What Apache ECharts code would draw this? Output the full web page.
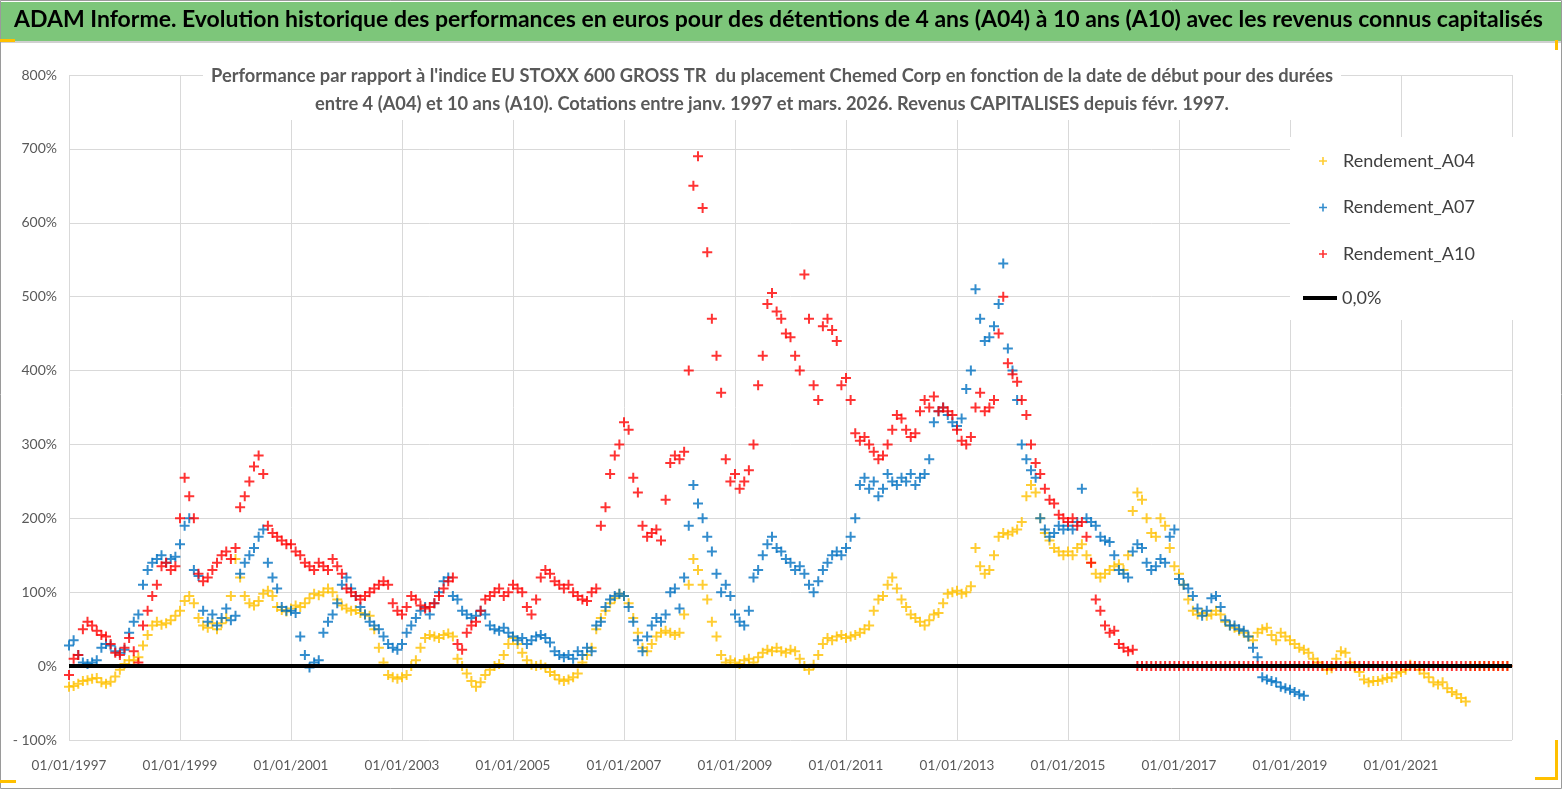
<!DOCTYPE html>
<html>
<head>
<meta charset="utf-8">
<title>ADAM Informe - Chemed Corp</title>
<script src="https://cdn.jsdelivr.net/npm/echarts@6/dist/echarts.min.js"></script>
<style>
  html, body { margin: 0; padding: 0; background: #fff; }
  #chart { width: 1567px; height: 790px; }
</style>
</head>
<body>
<div id="chart"></div>
<script>
// premier point : janvier 1997, un point par mois
var START = 1997;

// Rendement_A04 (en %), mensuel
var A04 = [
  -28, -27, -24, -20, -19, -17, -16, -22, -24, -21, -14, -5,     // 1997
  3, 8, 8, 12, 28, 42, 55, 60, 56, 58, 62, 68,                   // 1998
  75, 88, 95, 85, 65, 55, 52, 58, 50, 58, 65, 95,                // 1999
  145, 120, 95, 85, 82, 88, 98, 102, 95, 80, 76, 74,             // 2000
  78, 82, 80, 85, 92, 98, 96, 100, 105, 100, 90, 82,             // 2001
  78, 75, 76, 72, 70, 68, 50, 25, 5, -12, -15, -17,              // 2002
  -15, -12, 0, 8, 25, 38, 42, 40, 38, 42, 44, 40,                // 2003
  10, 0, -10, -20, -28, -22, -12, -5, 0, 3, 15, 30,              // 2004
  38, 30, 18, 8, 2, 0, 2, -2, -8, -12, -18, -20,                 // 2005
  -18, -15, -10, 5, 15, 25, 50, 65, 75, 85, 92, 98,              // 2006
  95, 85, 65, 45, 25, 20, 30, 40, 45, 48, 45, 42,                // 2007
  45, 70, 110, 145, 130, 110, 90, 60, 40, 15, 5, 8,              // 2008
  5, 3, 8, 10, 5, 12, 18, 22, 20, 25, 20, 18,                    // 2009
  22, 20, 10, 0, -5, 2, 15, 30, 38, 35, 40, 42,                  // 2010
  38, 40, 42, 45, 50, 55, 75, 90, 95, 110, 120, 105,             // 2011
  90, 80, 70, 65, 60, 55, 62, 70, 72, 85, 98, 100,               // 2012
  102, 98, 100, 108, 160, 135, 125, 130, 150, 175, 180, 178,     // 2013
  182, 185, 195, 230, 245, 235, 200, 180, 170, 160, 155, 150,    // 2014
  155, 150, 160, 165, 150, 140, 125, 120, 125, 130, 135, 138,    // 2015
  130, 150, 210, 235, 225, 200, 180, 175, 200, 190, 160, 135,    // 2016
  125, 110, 90, 75, 70, 72, 68, 70, 75, 70, 60, 55,              // 2017
  52, 48, 45, 40, 35, 45, 50, 52, 42, 35, 45, 40,                // 2018
  35, 30, 25, 22, 18, 10, 5, 0, -5, -3, 10, 20,                  // 2019
  18, 5, -2, -8, -18, -22, -20, -20, -18, -16, -15, -10,         // 2020
  -8, -5, 2, 0, -5, -10, -15, -22, -25, -22, -30, -35,           // 2021
  -38, -43, -48, 0, 0, 0, 0, 0, 0, 0, 0, 0                       // 2022
];

// Rendement_A07 (en %), mensuel
var A07 = [
  28, 35, 15, 5, 3, 5, 8, 25, 30, 28, 20, 18,                    // 1997
  22, 45, 60, 70, 110, 130, 140, 145, 150, 140, 145, 148,        // 1998
  165, 190, 200, 130, 122, 75, 60, 70, 55, 65, 78, 62,           // 1999
  68, 125, 140, 150, 160, 175, 185, 140, 120, 105, 80, 75,       // 2000
  75, 72, 40, 15, -2, 5, 8, 45, 60, 70, 85, 110,                 // 2001
  120, 105, 95, 80, 70, 60, 55, 50, 40, 30, 25, 22,              // 2002
  30, 45, 55, 65, 75, 80, 70, 85, 100, 115, 120, 95,             // 2003
  90, 75, 70, 65, 68, 75, 70, 55, 50, 48, 52, 45,                // 2004
  40, 35, 38, 30, 35, 40, 42, 38, 32, 20, 15, 12,                // 2005
  15, 10, 20, 15, 25, 20, 55, 60, 80, 90, 95, 98,                // 2006
  95, 80, 60, 35, 20, 40, 55, 65, 60, 70, 100, 105,              // 2007
  78, 120, 190, 245, 220, 200, 175, 155, 125, 100, 110, 95,      // 2008
  70, 60, 55, 75, 120, 130, 150, 165, 175, 160, 155, 145,        // 2009
  140, 130, 135, 125, 110, 100, 115, 130, 140, 150, 155, 150,    // 2010
  160, 175, 200, 245, 255, 240, 250, 230, 240, 260, 250, 245,    // 2011
  255, 250, 260, 245, 255, 260, 280, 330, 345, 350, 340, 330,    // 2012
  325, 335, 375, 400, 510, 470, 440, 445, 460, 490, 545, 430,    // 2013
  400, 360, 300, 280, 265, 255, 200, 185, 175, 180, 190, 185,    // 2014
  190, 185, 195, 240, 200, 195, 190, 175, 170, 168, 150, 130,    // 2015
  125, 120, 155, 165, 160, 140, 130, 135, 145, 140, 175, 185,    // 2016
  118, 110, 105, 95, 78, 68, 75, 92, 95, 80, 62, 55,             // 2017
  55, 50, 48, 40, 25, 12, -15, -18, -20, -22, -28, -30,          // 2018
  -32, -35, -38, -40                                             // 2019
];

// Rendement_A10 (en %), mensuel
var A10 = [
  -12, 10, 15, 50, 60, 55, 48, 42, 40, 30, 18, 15,               // 1997
  25, 38, 20, 5, 55, 75, 95, 110, 135, 140, 130, 135,            // 1998
  200, 255, 230, 200, 125, 115, 120, 130, 140, 150, 155, 145,    // 1999
  160, 215, 230, 250, 270, 285, 260, 190, 180, 175, 170, 165,    // 2000
  165, 155, 150, 140, 135, 130, 140, 135, 130, 145, 135, 125,    // 2001
  105, 100, 95, 90, 95, 100, 105, 110, 115, 110, 85, 75,         // 2002
  70, 80, 95, 90, 82, 78, 80, 85, 95, 105, 115, 120,             // 2003
  30, 22, 45, 55, 60, 75, 90, 95, 100, 105, 95, 100,             // 2004
  110, 105, 100, 80, 70, 90, 120, 130, 125, 115, 110, 105,       // 2005
  110, 100, 95, 90, 88, 100, 105, 190, 215, 260, 285, 300,       // 2006
  330, 320, 255, 235, 190, 175, 180, 185, 170, 225, 275, 285,    // 2007
  280, 290, 400, 650, 690, 620, 560, 470, 420, 370, 280, 250,    // 2008
  260, 240, 250, 265, 300, 380, 420, 490, 505, 480, 470, 450,    // 2009
  445, 420, 400, 530, 470, 380, 360, 460, 470, 455, 440, 380,    // 2010
  390, 360, 315, 305, 310, 300, 290, 280, 285, 300, 320, 340,    // 2011
  335, 320, 310, 315, 345, 360, 350, 365, 345, 350, 345, 340,    // 2012
  320, 305, 300, 310, 350, 370, 345, 350, 360, 450, 500, 410,    // 2013
  395, 385, 360, 340, 300, 275, 260, 240, 225, 220, 205, 200,    // 2014
  195, 200, 190, 195, 175, 140, 90, 75, 55, 45, 48, 30,          // 2015
  25, 20, 22, 0, 0, 0, 0, 0, 0, 0, 0, 0,                         // 2016
  0, 0, 0, 0, 0, 0, 0, 0, 0, 0, 0, 0,                            // 2017
  0, 0, 0, 0, 0, 0, 0, 0, 0, 0, 0, 0,                            // 2018
  0, 0, 0, 0, 0, 0, 0, 0, 0, 0, 0, 0,                            // 2019
  0, 0, 0, 0, 0, 0, 0, 0, 0, 0, 0, 0,                            // 2020
  0, 0, 0, 0, 0, 0, 0, 0, 0, 0, 0, 0,                            // 2021
  0, 0, 0, 0, 0, 0, 0, 0, 0, 0, 0, 0                             // 2022
];

// axe des dates : 01/01/1997 -> 01/01/2023, un repère tous les 2 ans
var X_MIN = 1997, X_MAX = 2023, X_STEP = 2;
// axe des rendements (%)
var Y_MIN = -100, Y_MAX = 800, Y_STEP = 100;

var FONT = "Lato, 'Noto Sans', sans-serif";
var PLUS = 'path://M4,0h2v4h4v2h-4v4h-2v-4h-4v-2h4z';

function pts(arr) {
    return arr.map(function (v, i) { return [START + i / 12, v]; });
}

var myChart = echarts.init(document.getElementById('chart'));

var option = {
    backgroundColor: '#fff',
    animation: false,
    textStyle: { fontFamily: FONT },
    title: [{
        text: 'ADAM Informe. Evolution historique des performances en euros pour des détentions de 4 ans (A04) à 10 ans (A10) avec les revenus connus capitalisés',
        left: 14,
        top: 8,
        padding: 0,
        textStyle: { fontFamily: FONT, fontSize: 23, fontWeight: 'bold', color: '#000' }
    }, {
        text: "Performance par rapport à l'indice EU STOXX 600 GROSS TR  du placement Chemed Corp en fonction de la date de début pour des durées\nentre 4 (A04) et 10 ans (A10). Cotations entre janv. 1997 et mars. 2026. Revenus CAPITALISES depuis févr. 1997.",
        left: 764,
        textAlign: 'center',
        top: 62,
        padding: [0, 8, 2, 8],
        backgroundColor: '#fff',
        textStyle: { fontFamily: FONT, fontSize: 18.3, fontWeight: 'bold', color: '#595959', lineHeight: 28 }
    }],
    graphic: [
        { type: 'rect', shape: { x: 0.5, y: 0.5, width: 1561, height: 788 }, style: { fill: 'none', stroke: '#9a9a9a', lineWidth: 1 }, z: 0 },
        { type: 'rect', shape: { x: 1, y: 2, width: 1560, height: 39 }, style: { fill: '#7DC67A' }, z: 0 },
        { type: 'rect', shape: { x: 1, y: 41, width: 1560, height: 2 }, style: { fill: '#d0d0d0' }, z: 0 },
        { type: 'rect', shape: { x: 0, y: 39, width: 15, height: 3 }, style: { fill: '#FFC000' }, z: 0 },
        { type: 'rect', shape: { x: 1555, y: 40, width: 3, height: 10 }, style: { fill: '#FFC000' }, z: 0 },
        { type: 'rect', shape: { x: 1555, y: 740, width: 3, height: 40 }, style: { fill: '#FFC000' }, z: 0 },
        { type: 'rect', shape: { x: 1535, y: 777, width: 23, height: 3 }, style: { fill: '#FFC000' }, z: 0 },
        { type: 'rect', shape: { x: 0, y: 780, width: 16, height: 3 }, style: { fill: '#FFC000' }, z: 0 },
        { type: 'rect', shape: { x: 1290, y: 137, width: 225, height: 183 }, style: { fill: '#fff' }, z: 5 }
    ],
    legend: [{
        data: ['Rendement_A04', 'Rendement_A07', 'Rendement_A10'],
        orient: 'vertical',
        left: 1314,
        top: 147,
        itemGap: 28.5,
        itemWidth: 30,
        itemHeight: 8,
        icon: PLUS,
        z: 10,
        textStyle: { fontFamily: FONT, fontSize: 18, color: '#404040' }
    }, {
        data: ['0,0%'],
        left: 1298,
        top: 284,
        itemWidth: 34,
        itemHeight: 4,
        icon: 'rect',
        z: 10,
        textStyle: { fontFamily: FONT, fontSize: 18, color: '#404040' }
    }],
    grid: { left: 69, right: 55, top: 75, bottom: 50 },
    xAxis: {
        type: 'value',
        min: X_MIN,
        max: X_MAX,
        interval: X_STEP,
        axisLine: { show: false },
        axisTick: { show: false },
        splitLine: { show: true, lineStyle: { color: '#d9d9d9', width: 1 } },
        axisLabel: {
            showMaxLabel: false,
            margin: 19,
            fontSize: 13.5,
            color: '#595959',
            fontFamily: FONT,
            formatter: function (v) { return '01/01/' + v; }
        }
    },
    yAxis: {
        type: 'value',
        min: Y_MIN,
        max: Y_MAX,
        interval: Y_STEP,
        axisLine: { show: false },
        axisTick: { show: false },
        splitLine: { show: true, lineStyle: { color: '#d9d9d9', width: 1 } },
        axisLabel: {
            margin: 12,
            fontSize: 14,
            color: '#595959',
            fontFamily: FONT,
            formatter: function (v) { return v < 0 ? '- ' + Math.abs(v) + '%' : v + '%'; }
        }
    },
    series: [{
        name: 'Rendement_A04',
        type: 'scatter',
        symbol: PLUS,
        symbolSize: 10,
        itemStyle: { color: '#FFC000' },
        data: pts(A04)
    }, {
        name: 'Rendement_A07',
        type: 'scatter',
        symbol: PLUS,
        symbolSize: 10,
        itemStyle: { color: '#0070C0' },
        data: pts(A07)
    }, {
        name: '0,0%',
        type: 'line',
        symbol: 'none',
        lineStyle: { color: '#000', width: 4 },
        itemStyle: { color: '#000' },
        data: [[X_MIN, 0], [X_MAX, 0]]
    }, {
        name: 'Rendement_A10',
        type: 'scatter',
        symbol: PLUS,
        symbolSize: 10,
        itemStyle: { color: '#FF0000' },
        data: pts(A10)
    }]
};

myChart.setOption(option);
</script>
</body>
</html>
